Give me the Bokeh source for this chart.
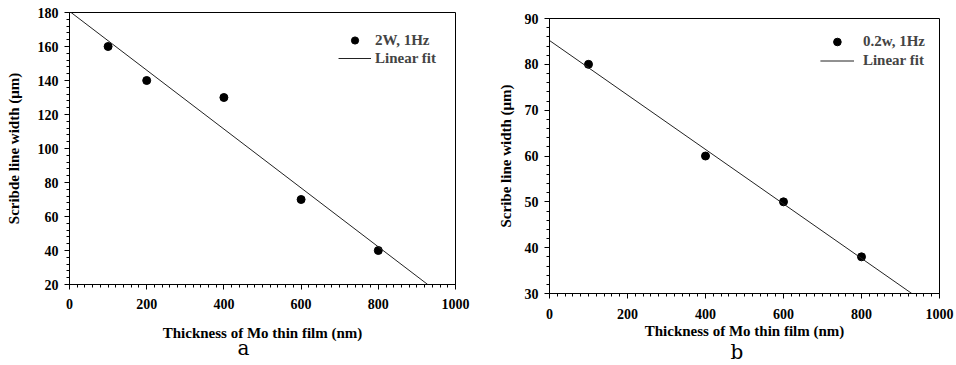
from bokeh.plotting import figure
from bokeh.models import Range1d, SingleIntervalTicker, Legend, LegendItem, Title
from bokeh.embed import file_html
from bokeh.resources import INLINE
from jinja2 import Template

# Panel a data
a_thickness = [100, 200, 400, 600, 800]
a_width = [160, 140, 130, 70, 40]
a_fit_x = [0, 928]
a_fit_y = [180.7, 20]
a_label = "2W, 1Hz"

# Panel b data
b_thickness = [100, 400, 600, 800]
b_width = [80, 60, 50, 38]
b_fit_x = [0, 929]
b_fit_y = [85.2, 30]
b_label = "0.2w, 1Hz"

SERIF = "Liberation Serif"


def make_panel(xs, ys, fx, fy, label, ylabel, yr, yint, letter, borders,
               leg, tick_standoff, xlab_standoff, ylab_standoff, letter_standoff, letter_offset):
    w, h = 478, 365
    p = figure(width=w, height=h, output_backend="svg", toolbar_location=None,
               x_range=Range1d(0, 1000), y_range=Range1d(*yr),
               min_border_left=borders[0], min_border_right=borders[1],
               min_border_top=borders[2], min_border_bottom=borders[3])
    p.xgrid.visible = False
    p.ygrid.visible = False
    p.outline_line_color = "black"
    p.outline_line_width = 1
    p.background_fill_color = "white"
    p.border_fill_color = "white"
    p.xaxis.ticker = SingleIntervalTicker(interval=200, num_minor_ticks=10)
    p.yaxis.ticker = SingleIntervalTicker(interval=yint, num_minor_ticks=5)
    for ax in (p.xaxis[0], p.yaxis[0]):
        ax.axis_line_color = "black"
        ax.major_tick_in = 0
        ax.major_tick_out = 5
        ax.minor_tick_in = 0
        ax.minor_tick_out = 3
        ax.major_tick_line_color = "black"
        ax.minor_tick_line_color = "black"
        ax.major_label_text_font = SERIF
        ax.major_label_text_font_style = "bold"
        ax.major_label_text_font_size = "14px"
        ax.major_label_text_color = "black"
        ax.axis_label_text_font = SERIF
        ax.axis_label_text_font_style = "bold"
        ax.axis_label_text_font_size = "15px"
        ax.axis_label_text_color = "black"
    p.xaxis.axis_label = "Thickness of Mo thin film (nm)"
    p.yaxis.axis_label = ylabel
    p.xaxis.major_label_standoff = tick_standoff
    p.yaxis.major_label_standoff = 6
    p.xaxis.axis_label_standoff = xlab_standoff
    p.yaxis.axis_label_standoff = ylab_standoff

    r_dots = p.scatter(xs, ys, size=8, color="black")
    r_fit = p.line(fx, fy, line_color="#222222", line_width=1)

    legend = Legend(items=[LegendItem(label=label, renderers=[r_dots]),
                           LegendItem(label="Linear fit", renderers=[r_fit])],
                    location="top_right")
    legend.border_line_color = None
    legend.background_fill_alpha = 0
    legend.label_text_font = SERIF
    legend.label_text_font_style = "bold"
    legend.label_text_font_size = "15px"
    legend.glyph_width = leg[0]
    legend.glyph_height = leg[1]
    legend.label_height = leg[1]
    legend.margin = leg[2]
    legend.padding = leg[3]
    legend.label_standoff = leg[4]
    legend.spacing = 0
    p.add_layout(legend)

    t = Title(text=letter, align="left", text_font="DejaVu Serif",
              text_font_size="20px", text_font_style="normal", text_color="black",
              standoff=letter_standoff, offset=letter_offset)
    p.add_layout(t, "below")
    return p


pa = make_panel(a_thickness, a_width, a_fit_x, a_fit_y, a_label,
                "Scribde line width (\u03bcm)", (20, 180), 20, "a",
                (69, 23, 12, 81), (33, 18, 19, 8, 4), 9, 13, 13, -19, 168)
pb = make_panel(b_thickness, b_width, b_fit_x, b_fit_y, b_label,
                "Scribe line width (\u03bcm)", (30, 90), 10, "b",
                (71, 17, 18, 72), (34, 19, 14, 5, 9), 10, 1, 8, -8, 181)

TEMPLATE = Template("""{% from macros import embed %}
<!DOCTYPE html>
<html lang="en">
<head>
<meta charset="utf-8">
<title>Scribe line width</title>
{{ bokeh_css }}
{{ bokeh_js }}
<style>html, body { margin: 0; padding: 0; } .pair { display: flex; flex-direction: row; width: 956px; height: 365px; }</style>
</head>
<body>
<div class="pair">
<div>{{ embed(roots[0]) }}</div>
<div>{{ embed(roots[1]) }}</div>
</div>
{{ plot_script }}
</body>
</html>
""")

open("out.html", "w").write(file_html([pa, pb], INLINE, template=TEMPLATE))
